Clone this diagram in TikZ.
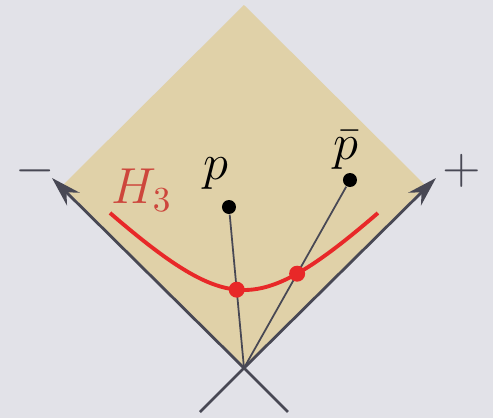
\documentclass[tikz,border=0pt]{standalone}
\usepackage{amsmath,amssymb}
\usepackage{xcolor}
\usetikzlibrary{arrows.meta,intersections}
\definecolor{bgray}{RGB}{226,226,232}
\definecolor{tan}{RGB}{224,209,168}
\definecolor{lgray}{RGB}{72,72,84}
\definecolor{hred}{RGB}{232,40,40}
\definecolor{lred}{RGB}{205,70,60}
\begin{document}
\begin{tikzpicture}[
  edge/.style={draw=lgray,line width=0.8pt},
  ray/.style={draw=lgray,line width=0.5pt},
  dot/.style={circle,fill=black,minimum size=1.4mm,inner sep=0},
  rdot/.style={circle,fill=hred,minimum size=1.6mm,inner sep=0},
  lbl/.style={font=\fontsize{14.5}{17}\selectfont}]
\fill[bgray] (-2.44,-0.50) rectangle (2.49,3.68);
\useasboundingbox (-2.44,-0.50) rectangle (2.49,3.68);
\coordinate (o) at (0,0);
\fill[tan] (o) -- (-1.82,1.82) -- (0,3.63) -- (1.82,1.82) -- cycle;
\coordinate (minus) at (-1.92,1.90);
\coordinate (plus) at (1.92,1.90);
\coordinate (dl) at (-0.44,-0.44);
\coordinate (dr) at (0.44,-0.44);
\draw[edge,-{Stealth[length=3mm,width=1.8mm]}] (o) -- (minus);
\draw[edge,-{Stealth[length=3mm,width=1.8mm]}] (o) -- (plus);
\draw[edge] (o) -- (dl);
\draw[edge] (o) -- (dr);
\node[lbl,text=lgray] (mlab) at (-2.09,1.97) {$-$};
\node[lbl,text=lgray] (plab) at (2.18,1.97) {$+$};
% hyperbola t^2 - x^2 = a^2
\draw[hred,line width=1.1pt,name path=hyp]
  plot[domain=-1.34:1.34,samples=60,smooth] (\x,{sqrt(0.78*0.78+\x*\x)});
\node[lbl,text=lred] (hlab) at (-1.02,1.78) {$H_3$};
\node[dot] (p) at (-0.15,1.61) {};
\node[dot] (pb) at (1.06,1.88) {};
\node[lbl] (plb) at (-0.28,1.94) {$p$};
\node[lbl] (pblb) at (1.02,2.18) {$\bar{p}$};
\draw[ray,name path=rp] (o) -- (p);
\draw[ray,name path=rpb] (o) -- (pb);
\path[name intersections={of=hyp and rp,by=x1}];
\path[name intersections={of=hyp and rpb,by=x2}];
\node[rdot] (e1) at (x1) {};
\node[rdot] (e2) at (x2) {};
\end{tikzpicture}
\end{document}
